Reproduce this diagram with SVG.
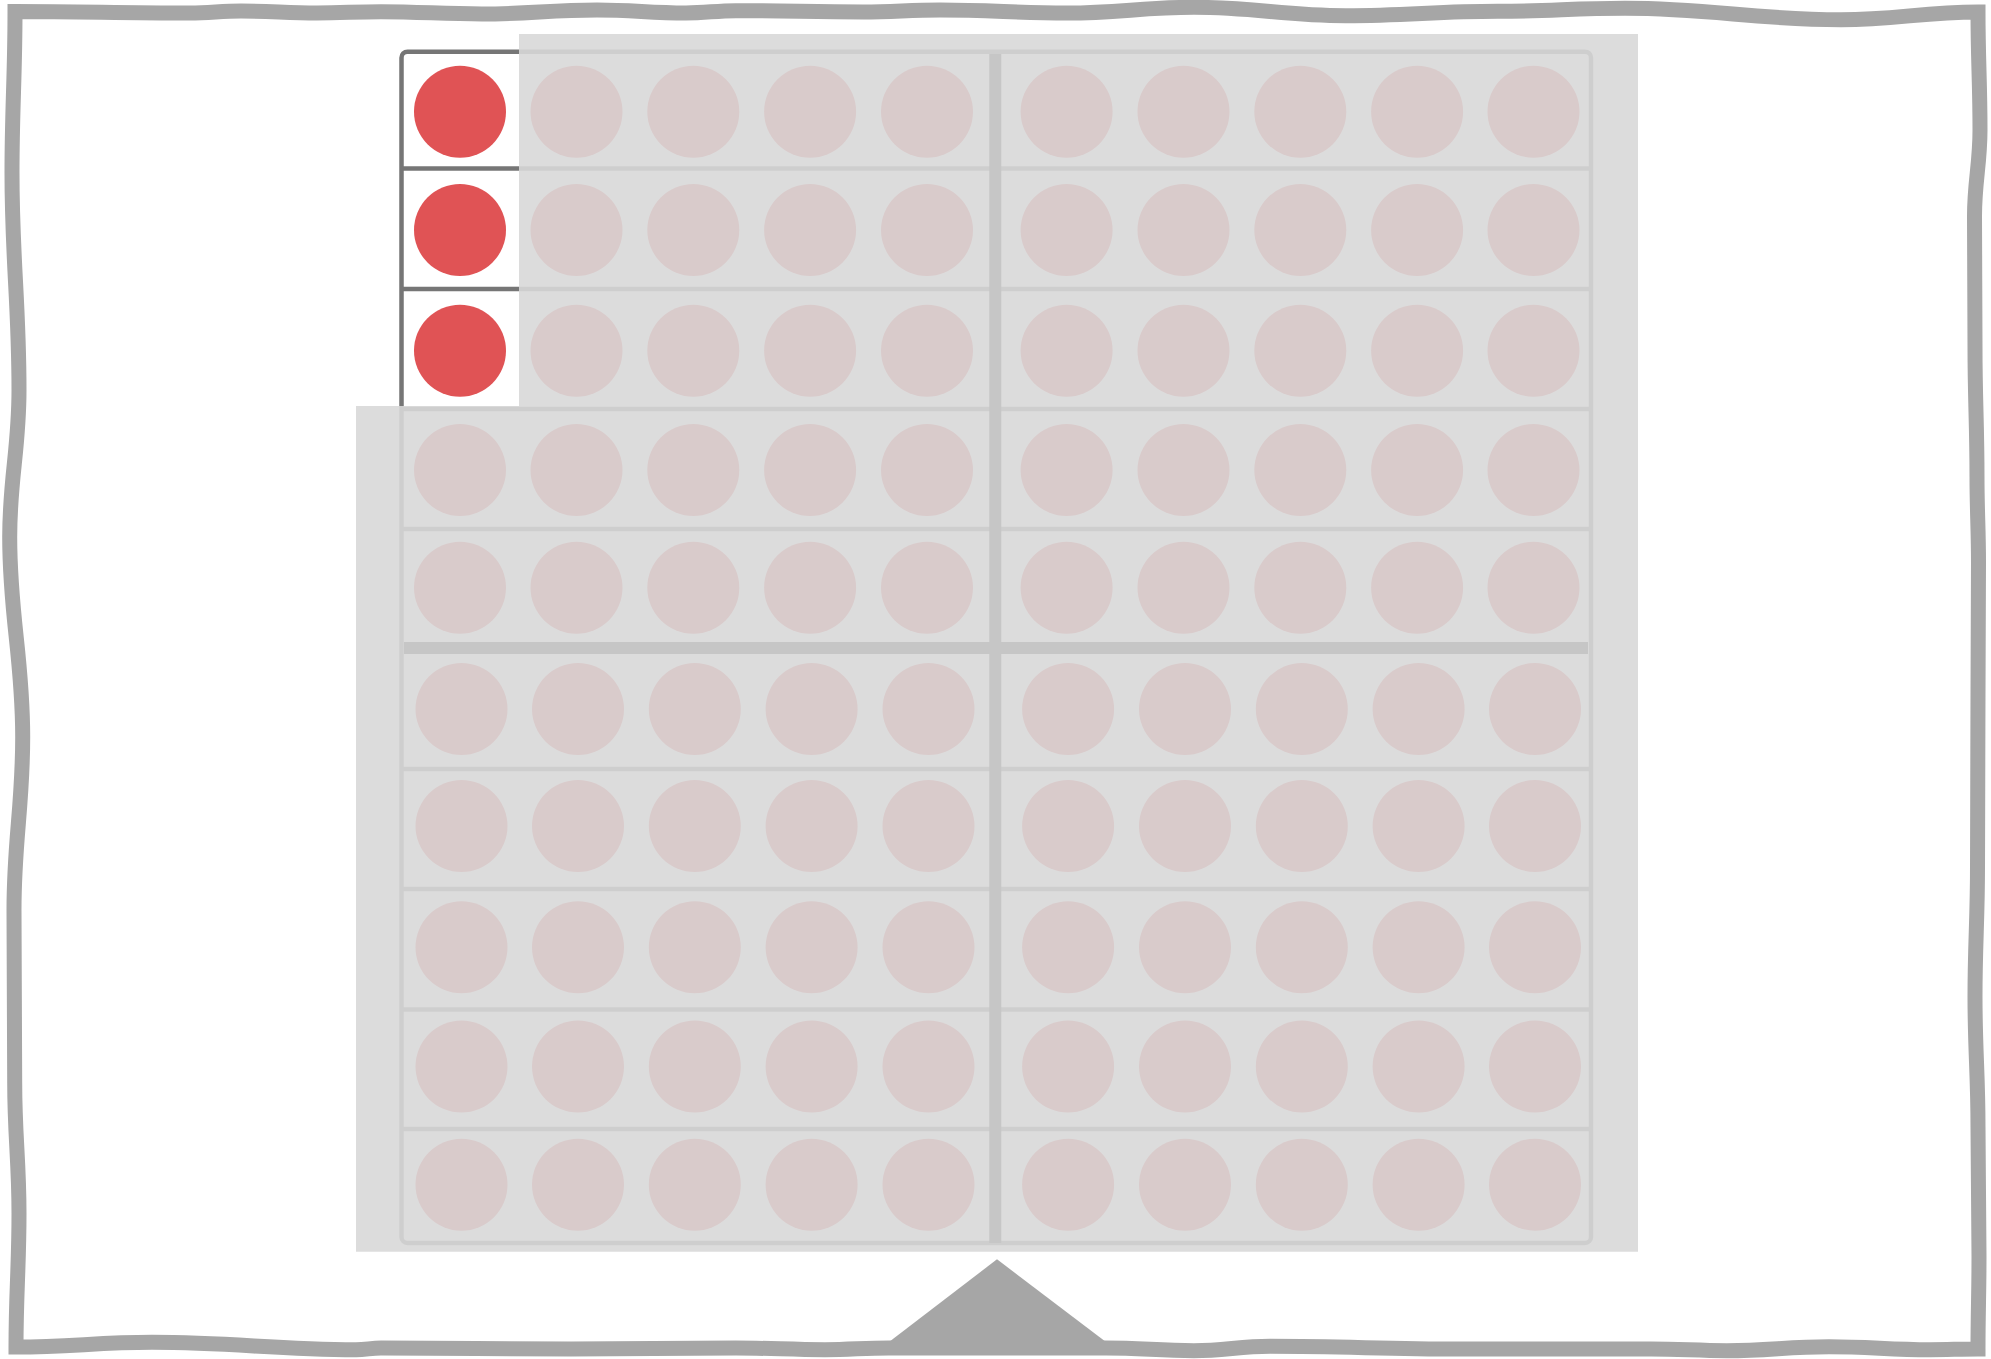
<svg xmlns="http://www.w3.org/2000/svg" width="1991" height="1359" viewBox="0 0 1991 1359">
<style>
.well{fill:#e05355}
.ln{stroke:#767676;stroke-width:4.5;fill:none}
.thick{stroke:#1e1e1e;stroke-width:12;fill:none}
.border{fill:none;stroke:#a6a6a6;stroke-width:15;stroke-linejoin:miter}
</style>
<defs>
<g id="rowA">
<circle class="well" cx="460" cy="0" r="46"/><circle class="well" cx="576.5" cy="0" r="46"/><circle class="well" cx="693.3" cy="0" r="46"/><circle class="well" cx="810.1" cy="0" r="46"/><circle class="well" cx="927" cy="0" r="46"/><circle class="well" cx="1066.6" cy="0" r="46"/><circle class="well" cx="1183.5" cy="0" r="46"/><circle class="well" cx="1300.3" cy="0" r="46"/><circle class="well" cx="1417.1" cy="0" r="46"/><circle class="well" cx="1533.5" cy="0" r="46"/>
</g>
</defs>
<rect x="0" y="0" width="1991" height="1359" fill="#ffffff"/>
<g id="callout">
<path class="border" d="M15,11.5 C85,11.5 119,13 190,13 C210,13 221,11 241,11 C271,11 287,13 317,13 C343,13 355,11.7 381,11.7 C421,11.7 442,14 482,14 C528,14 551,10 597,10 C633,10 650,13 686,13 C706,13 716,10.7 736,10.7 C787,10.7 812,12 863,12 C894,12 909,10 940,10 C991,10 1016,13 1067,13 C1118,13 1143,7.3 1194,7.3 C1255,7.3 1285,15.7 1346,15.7 C1407,15.7 1437,11.3 1498,11.3 C1549,11.3 1574,8.3 1625,8.3 C1711,8.3 1755,19.7 1841,19.7 C1896,19.7 1923,12 1978,12 C1978,59 1980,83 1980,130 C1980,164 1974.5,182 1974.5,216 C1974.5,268 1975,295 1975,347 C1975,399 1977,425 1977,477 C1977,511 1978.5,529 1978.5,563 C1978.5,615 1978,641 1978,693 C1978,763 1977.5,797 1977.5,867 C1977.5,919 1975,945 1975,997 C1975,1049 1978,1075 1978,1127 C1978,1179 1979,1205 1979,1257 C1979,1294 1978,1312 1978,1349 C1958.8,1349 1949.2,1349.7 1930,1349.7 C1889.6,1349.7 1869.4,1346.7 1829,1346.7 C1788.2,1346.7 1767.8,1350.7 1727,1350.7 C1696.6,1350.7 1681.4,1349 1651,1349 C1574.6,1349 1536.4,1349 1460,1349 C1384,1349 1346,1346.3 1270,1346.3 C1239.6,1346.3 1224.4,1350.7 1194,1350.7 C1158.8,1350.7 1141.2,1348 1106,1348 C1019.2,1348 975.8,1348 889,1348 C863.4,1348 850.6,1349.7 825,1349.7 C789.4,1349.7 771.6,1348 736,1348 C670,1348 637,1349 571,1349 C495,1349 457,1348 381,1348 C371,1348 366,1349.7 356,1349.7 C274.4,1349.7 233.6,1342.3 152,1342.3 C97.6,1342.3 70.4,1347 16,1347 C16,1293.4 19,1266.6 19,1213 C19,1161 14.7,1135 14.7,1083 C14.7,1013.8 14,979.2 14,910 C14,840.8 22.7,806.2 22.7,737 C22.7,657 9.7,617 9.7,537 C9.7,478.2 19,448.8 19,390 C19,303.2 12,259.8 12,173 C12,108.4 15,76.1 15,11.5 Z"/>
<polygon id="pointer" points="889,1342 997,1259.3 1106,1342 1106,1350 889,1350" fill="#a6a6a6"/>
</g>
<g id="plate">
<rect class="ln" x="401.5" y="51.7" width="1189.5" height="1191.3" rx="6"/>
<g id="row-lines">
<line class="ln" x1="401.5" y1="168.5" x2="1591" y2="168.5"/>
<line class="ln" x1="401.5" y1="289" x2="1591" y2="289"/>
<line class="ln" x1="401.5" y1="409" x2="1591" y2="409"/>
<line class="ln" x1="401.5" y1="529" x2="1591" y2="529"/>
<line class="ln" x1="401.5" y1="769" x2="1591" y2="769"/>
<line class="ln" x1="401.5" y1="889" x2="1591" y2="889"/>
<line class="ln" x1="401.5" y1="1009.5" x2="1591" y2="1009.5"/>
<line class="ln" x1="401.5" y1="1129" x2="1591" y2="1129"/>
</g>
<line class="thick" x1="404" y1="648" x2="1588" y2="648" stroke-width="11.5"/>
<line class="thick" x1="995.3" y1="54" x2="995.3" y2="1243"/>
<g id="wells">
<use href="#rowA" transform="translate(0,111.7)"/>
<use href="#rowA" transform="translate(0,230)"/>
<use href="#rowA" transform="translate(0,350.7)"/>
<use href="#rowA" transform="translate(0,470)"/>
<use href="#rowA" transform="translate(0,587.7)"/>
<use href="#rowA" transform="translate(1.5,709)"/>
<use href="#rowA" transform="translate(1.5,826)"/>
<use href="#rowA" transform="translate(1.5,947.3)"/>
<use href="#rowA" transform="translate(1.5,1066.6)"/>
<use href="#rowA" transform="translate(1.5,1184.7)"/>
</g>
</g>
<g id="mask-overlay">
<path d="M519,34 H1638 V1251.7 H356 V406 H519 Z" fill="#d8d8d8" fill-opacity="0.9"/>
</g>
<g id="connectors"/>
</svg>
